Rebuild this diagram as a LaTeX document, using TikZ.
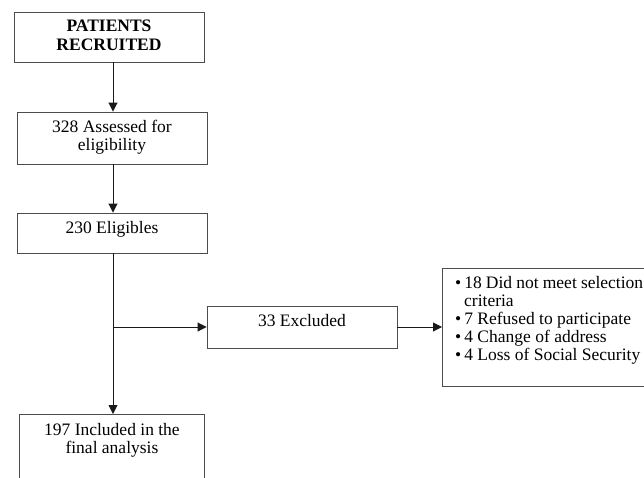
\documentclass[tikz,border=0pt]{standalone}
\usepackage{fontspec}
\setmainfont{Liberation Serif}
\usetikzlibrary{arrows.meta}
\begin{document}
\begin{tikzpicture}[x=1pt,y=-1pt,
  box/.style={draw=black!70,line width=0.9pt,inner sep=0pt},
  txt/.style={anchor=north,align=center,inner sep=0pt,font=\fontsize{17.5}{18.5}\selectfont},
  arr/.style={draw=black!90,line width=0.9pt,-{Triangle[length=9pt,width=9pt]}}]
\useasboundingbox (0,0) rectangle (644,477);
\clip (0,0) rectangle (644,477);
\coordinate (spine) at (113,0);
\node[box,minimum width=190pt,minimum height=50pt] (b1) at (109,37) {};
\node[txt,font=\fontsize{17.5}{19}\selectfont\bfseries] (t1) at ([yshift=-8pt]b1.north) {PATIENTS\\RECRUITED};
\node[box,minimum width=190pt,minimum height=52pt] (b2) at (112,138) {};
\node[txt] (t2) at ([yshift=-8pt]b2.north) {328 Assessed for\\eligibility};
\node[box,minimum width=190pt,minimum height=40pt] (b3) at (112,233) {};
\node[txt] (t3) at ([yshift=-9pt]b3.north) {230 Eligibles};
\node[box,minimum width=190pt,minimum height=42pt] (b4) at (302,327) {};
\node[txt] (t4) at ([yshift=-9pt]b4.north) {33 Excluded};
\node[box,minimum width=240pt,minimum height=118pt,anchor=north west] (b5) at (442,268) {};
\node[anchor=north west,inner sep=0pt,align=left,font=\fontsize{17.5}{18}\selectfont] (t5) at (453,276) {%
\begin{minipage}{190pt}\raggedright
\begin{list}{\textbullet}{\leftmargin=11pt\labelwidth=6pt\labelsep=3pt\itemsep=0pt\parsep=0pt\topsep=0pt}
\item 18 Did not meet selection criteria
\item 7 Refused to participate
\item 4 Change of address
\item 4 Loss of Social Security
\end{list}\end{minipage}};
\node[box,minimum width=185pt,minimum height=80pt,anchor=north west] (b6) at (19,414) {};
\node[txt] (t6) at ([yshift=-9pt]b6.north) {197 Included in the\\final analysis};
\coordinate (branch) at (113,327);
\draw[arr] (b1.south -| spine) -- (b2.north -| spine);
\draw[arr] (b2.south -| spine) -- (b3.north -| spine);
\draw[arr] (b3.south -| spine) -- (b6.north -| spine);
\draw[arr] (branch) -- (b4.west);
\draw[arr] (b4.east) -- (b5.west |- b4.east);
\end{tikzpicture}
\end{document}
